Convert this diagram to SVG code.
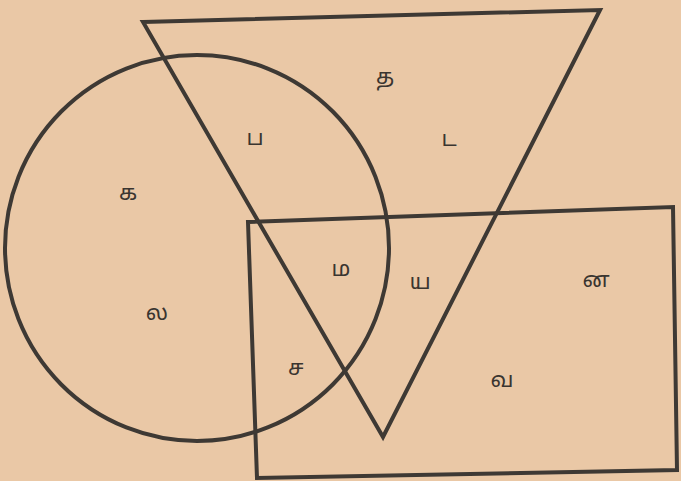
<svg xmlns="http://www.w3.org/2000/svg" width="681" height="481" viewBox="0 0 681 481">
<style>
.shape{fill:none;stroke:#3e3934;stroke-width:4;stroke-linejoin:miter}
.lbl{font-family:"Noto Sans Tamil","Noto Serif Tamil","Lohit Tamil","Noto Sans",sans-serif;font-size:22px;fill:#3a3530;text-anchor:middle}
</style>
<rect width="681" height="481" fill="#eac8a6"/>
<g id="circle"><ellipse class="shape" cx="197" cy="248" rx="192" ry="193"/></g>
<g id="triangle"><polygon class="shape" points="143,22 600,10 383,437"/></g>
<g id="rectangle"><polygon class="shape" points="248,222 673,207 677,470 257,478"/></g>
<g id="labels">
<text class="lbl" x="385" y="84">த</text>
<text class="lbl" x="255" y="145">ப</text>
<text class="lbl" x="449" y="146">ட</text>
<text class="lbl" x="128" y="200">க</text>
<text class="lbl" x="341" y="276">ம</text>
<text class="lbl" x="420" y="289">ய</text>
<text class="lbl" x="596" y="287">ன</text>
<text class="lbl" x="157" y="320">ல</text>
<text class="lbl" x="296" y="375">ச</text>
<text class="lbl" x="502" y="387">வ</text>
</g>
</svg>
